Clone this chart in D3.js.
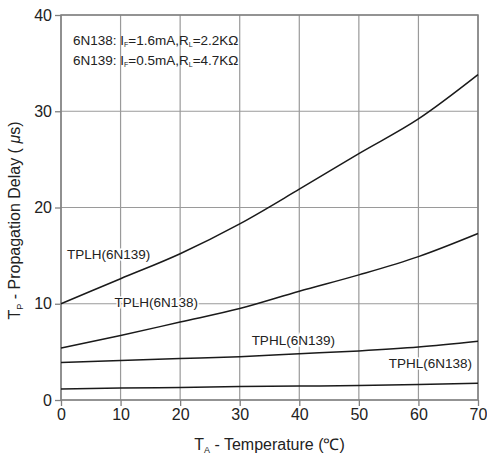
<!DOCTYPE html>
<html>
<head>
<meta charset="utf-8">
<script src="https://cdn.jsdelivr.net/npm/d3@7"></script>
<style>
  body { margin: 0; background: #fff; }
  text { font-family: "Liberation Sans", Arial, sans-serif; fill: #222; }
</style>
</head>
<body>
<div id="chart"></div>
<script>
// temperature (°C) and propagation delay (µs)
let temps = [0, 10, 20, 30, 40, 50, 60, 70];
let tplh6n139 = [10.0, 12.6, 15.2, 18.3, 21.9, 25.6, 29.2, 33.8];
let tplh6n138 = [5.4, 6.7, 8.1, 9.5, 11.3, 13.0, 14.9, 17.3];
let tphl6n139 = [3.9, 4.1, 4.3, 4.5, 4.8, 5.1, 5.5, 6.1];
let tphl6n138 = [1.15, 1.25, 1.3, 1.4, 1.45, 1.5, 1.6, 1.75];
let seriesNames = ["TPLH(6N139)", "TPLH(6N138)", "TPHL(6N139)", "TPHL(6N138)"];
let xTicks = [0, 10, 20, 30, 40, 50, 60, 70];
let yTicks = [0, 10, 20, 30, 40];

let margin = {top: 15, right: 9, bottom: 59, left: 61}
    , width = 487 - margin.left - margin.right
    , height = 459 - margin.top - margin.bottom;

let svg = d3.select("#chart").append("svg")
    .attr("width", 487)
    .attr("height", 459)
    .append("g")
    .attr("transform", "translate(" + margin.left + "," + margin.top + ")");

let x = d3.scaleLinear().domain([0, 70]).range([0, width]);
let y = d3.scaleLinear().domain([0, 40]).range([height, 0]);

// grid
svg.append("g")
    .selectAll("line.vg")
    .data(xTicks)
    .enter().append("line")
    .attr("x1", d => x(d)).attr("x2", d => x(d))
    .attr("y1", 0).attr("y2", height)
    .style("stroke", "#9a9a9a").style("stroke-width", 1.2);

svg.append("g")
    .selectAll("line.hg")
    .data(yTicks)
    .enter().append("line")
    .attr("x1", 0).attr("x2", width)
    .attr("y1", d => y(d)).attr("y2", d => y(d))
    .style("stroke", "#9a9a9a").style("stroke-width", 1.2);

svg.append("rect")
    .attr("width", width).attr("height", height)
    .style("fill", "none").style("stroke", "#808080").style("stroke-width", 1.5);

// axes
let xAxis = svg.append("g")
    .attr("transform", "translate(0," + height + ")")
    .call(d3.axisBottom(x).tickValues(xTicks).tickSize(6).tickPadding(3));
let yAxis = svg.append("g")
    .call(d3.axisLeft(y).tickValues(yTicks).tickSize(6).tickPadding(3));

[xAxis, yAxis].forEach(function (a) {
    a.select(".domain").remove();
    a.selectAll("line").style("stroke", "#808080").style("stroke-width", 1.3);
    a.selectAll("text").style("font-size", "16px").style("fill", "#222")
        .style("font-family", "'Liberation Sans', Arial, sans-serif");
});

// curves
let allSeries = [tplh6n139, tplh6n138, tphl6n139, tphl6n138];
let line = d3.line()
    .x((d, i) => x(temps[i]))
    .y(d => y(d))
    .curve(d3.curveMonotoneX);

svg.selectAll(".curve")
    .data(allSeries)
    .enter().append("path")
    .attr("class", "curve")
    .attr("d", d => line(d))
    .style("fill", "none")
    .style("stroke", "#1a1a1a")
    .style("stroke-width", 1.5);

// curve labels (anchored at a temperature / delay position)
let labelPos = [[1, 15.1], [9, 10.2], [32, 6.2], [55, 3.8]];
svg.selectAll(".clabel")
    .data(seriesNames)
    .enter().append("text")
    .attr("class", "clabel")
    .attr("x", (d, i) => x(labelPos[i][0]))
    .attr("y", (d, i) => y(labelPos[i][1]))
    .attr("dy", "0.35em")
    .style("font-size", "13.5px")
    .style("paint-order", "stroke")
    .style("stroke", "#fff")
    .style("stroke-width", 3)
    .text(d => d);

// condition notes
function note(yy, part, ifv, rlv) {
    let t = svg.append("text").attr("x", 12).attr("y", yy)
        .style("font-size", "13.5px");
    t.append("tspan").text(part + ": I");
    t.append("tspan").attr("baseline-shift", "-30%").style("font-size", "7px").text("F");
    t.append("tspan").text("=" + ifv + ",R");
    t.append("tspan").attr("baseline-shift", "-30%").style("font-size", "7px").text("L");
    t.append("tspan").text("=" + rlv);
}
note(30, "6N138", "1.6mA", "2.2KΩ");
note(50, "6N139", "0.5mA", "4.7KΩ");

// axis titles
let xt = svg.append("text")
    .attr("x", width / 2)
    .attr("y", height + 50)
    .attr("text-anchor", "middle")
    .style("font-size", "16px");
xt.append("tspan").text("T");
xt.append("tspan").attr("baseline-shift", "-30%").style("font-size", "9px").text("A");
xt.append("tspan").text(" - Temperature (℃)");

let yt = svg.append("text")
    .attr("transform", "translate(-41," + (height / 2 + 13) + ") rotate(-90)")
    .attr("text-anchor", "middle")
    .style("font-size", "16px");
yt.append("tspan").text("T");
yt.append("tspan").attr("baseline-shift", "-30%").style("font-size", "9px").text("P");
yt.append("tspan").text(" - Propagation Delay ( ");
yt.append("tspan").style("font-style", "italic").text("μ");
yt.append("tspan").text("s)");
</script>
</body>
</html>
